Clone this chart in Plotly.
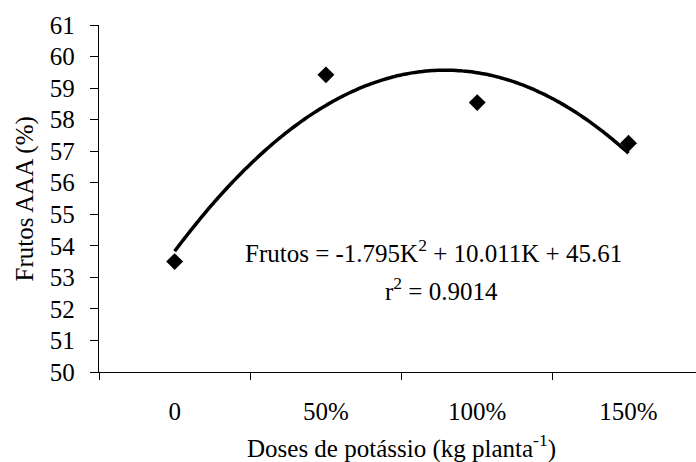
import plotly.graph_objects as go

categories = ["0", "50%", "100%", "150%"]
frutos = [53.5, 59.42, 58.54, 57.25]
# quadratic trendline coefficients as printed in the chart (K = 1..4)
coef_a, coef_b, coef_c = -1.795, 10.011, 45.61
y_ticks = list(range(50, 62))
boundaries = [-0.5, 0.5, 1.5, 2.5, 3.5]

FONT = "Liberation Serif, Times New Roman, Times, Noto Serif, DejaVu Serif, serif"
FS = 25

xpos = list(range(len(categories)))
n_steps = 150
trend_x = [i * 3 / n_steps for i in range(n_steps + 1)]
trend_y = [coef_a * (x + 1) ** 2 + coef_b * (x + 1) + coef_c for x in trend_x]

xr = [-0.5, 3.446]

fig = go.Figure()
fig.add_trace(go.Scatter(x=trend_x, y=trend_y, mode="lines",
                         line=dict(color="black", width=3.5, shape="spline"),
                         xaxis="x2", yaxis="y", showlegend=False, hoverinfo="skip"))
fig.add_trace(go.Scatter(x=xpos, y=frutos, mode="markers",
                         marker=dict(symbol="diamond", size=13, color="black"),
                         showlegend=False))

fig.update_layout(
    width=696, height=462,
    margin=dict(l=99, r=0, t=25, b=90, autoexpand=False),
    paper_bgcolor="white", plot_bgcolor="white",
    font=dict(family=FONT, size=FS, color="black"),
    xaxis=dict(type="linear", range=xr, tickvals=xpos, ticktext=categories,
               ticks="", showline=True, linecolor="black", linewidth=1.3,
               showgrid=False, zeroline=False, ticklabelstandoff=17,
               tickfont=dict(family=FONT, size=FS)),
    xaxis2=dict(type="linear", range=xr, overlaying="x", anchor="y", side="bottom",
                tickvals=boundaries, ticks="outside", ticklen=7, tickwidth=1.2,
                tickcolor="black", showticklabels=False, showline=False,
                showgrid=False, zeroline=False),
    yaxis=dict(range=[50, 61], tickvals=y_ticks, ticks="outside", ticklen=8,
               tickwidth=1.2, tickcolor="black", showline=True, linecolor="black",
               linewidth=1.3, showgrid=False, zeroline=False, ticklabelstandoff=10,
               tickfont=dict(family=FONT, size=FS)),
    annotations=[
        dict(text="Frutos = -1.795K<sup>2</sup> + 10.011K + 45.61", xref="paper", yref="paper",
             x=0.561, y=0.348, xanchor="center", yanchor="middle", showarrow=False,
             font=dict(family=FONT, size=FS)),
        dict(text="r<sup>2</sup> = 0.9014", xref="paper", yref="paper",
             x=0.573, y=0.24, xanchor="center", yanchor="middle", showarrow=False,
             font=dict(family=FONT, size=FS)),
        dict(text="Frutos AAA (%)", xref="paper", yref="paper", textangle=-90,
             x=-0.124, y=0.5, xanchor="center", yanchor="middle", showarrow=False,
             font=dict(family=FONT, size=FS)),
        dict(text="Doses de potássio (kg planta<sup>-1</sup>)", xref="paper", yref="paper",
             x=0.5075, y=-0.216, xanchor="center", yanchor="middle", showarrow=False,
             font=dict(family=FONT, size=FS)),
    ],
)

fig.write_html("out.html", config={"displayModeBar": False},
               post_script="document.body.style.margin='0';document.body.style.overflow='hidden';")
